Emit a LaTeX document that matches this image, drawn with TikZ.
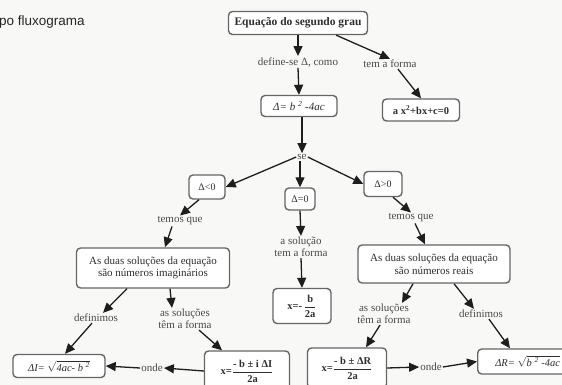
\documentclass[tikz,border=0pt]{standalone}
\usepackage{fontspec}
\setmainfont{Liberation Serif}
\newfontfamily\headfont{Liberation Sans}
\usetikzlibrary{arrows.meta}
\definecolor{boxline}{HTML}{666666}
\definecolor{lbltext}{HTML}{4A4A4A}
\definecolor{boxtext}{HTML}{2E2E2E}
\definecolor{arrowcol}{HTML}{1E1E1E}
\definecolor{paper}{HTML}{F8F8F6}
\newcommand{\stackfrac}[2]{\ensuremath{{\displaystyle\frac{\mbox{#1}}{\mbox{#2}}}}}
\tikzset{
  box/.style={draw=boxline, line width=1.4pt, rounded corners=4pt, fill=white,
    text=boxtext, inner sep=2pt, align=center, font=\fontsize{11}{12.5}\selectfont},
  lbl/.style={text=lbltext, inner sep=1pt, align=center,
    font=\fontsize{11}{12}\selectfont},
  arr/.style={-{Triangle[length=10pt,width=9pt]}, line width=1.3pt, draw=arrowcol}
}
\begin{document}
\begin{tikzpicture}[x=1pt,y=-1pt]
\useasboundingbox (0,0) rectangle (562,385);
\clip (0,0) rectangle (562,385);
\fill[paper] (0,0) rectangle (562,385);

% heading fragment
\node[anchor=base west, inner sep=0pt, font=\headfont\fontsize{13.5}{15}\selectfont, text=black!85] (head) at (-1,26) {po fluxograma};

% top level
\node[box, minimum width=139pt, minimum height=23pt, font=\bfseries\fontsize{11.5}{13}\selectfont] (eq) at (298,23) {Equação do segundo grau};
\node[lbl] (def) at (298,62) {define-se Δ, como};
\node[lbl] (tem) at (390,64) {tem a forma};
\node[box, minimum width=76pt, minimum height=21pt, font=\itshape\fontsize{11}{12}\selectfont] (delta) at (299,106) {Δ= b \textsuperscript{2} -4ac};
\node[box, minimum width=77pt, minimum height=22pt, font=\bfseries\fontsize{10.5}{12}\selectfont] (quad) at (421,110) {a x\textsuperscript{2}+bx+c=0};

\draw[arr] (eq.south -| def) -- (def.north);
\draw[arr] (eq.south east) ++(-32,0) -- (tem.north);
\draw[arr] (def.south) -- (delta.north);
\draw[arr] (tem.south) ++(8,0) -- (quad.north);

% branching on the discriminant
\node[lbl] (se) at (302,157) {se};
\node[box, minimum width=36pt, minimum height=24pt, font=\fontsize{10}{12}\selectfont] (neg) at (207,187) {Δ<0};
\node[box, minimum width=30pt, minimum height=22pt, font=\fontsize{10}{12}\selectfont] (zero) at (300,199) {Δ=0};
\node[box, minimum width=38pt, minimum height=25pt, font=\fontsize{10}{12}\selectfont] (pos) at (383,184) {Δ>0};

\draw[arr] (delta.south -| se) -- (se.north);
\draw[arr] (se.west) -- (neg.east);
\draw[arr] (se.south -| zero) -- (zero.north);
\draw[arr] (se.east) -- (pos.west);

\node[lbl] (temL) at (180,221) {temos que};
\node[lbl] (temR) at (411,218) {temos que};
\node[lbl] (sol0) at (301,247) {a solução\\tem a forma};

\draw[arr] (neg.south) ++(-8,0) -- (temL.north);
\draw[arr] (pos.south) ++(10,0) -- (temR.north);
\draw[arr] (zero.south) -- (sol0.north);

\node[box, minimum width=153pt, minimum height=40pt] (imag) at (153,268) {As duas soluções da equação\\são números imaginários};
\node[box, minimum width=152pt, minimum height=38pt] (real) at (434,264) {As duas soluções da equação\\são números reais};
\node[box, minimum width=58pt, minimum height=35pt, font=\bfseries\fontsize{10.5}{12}\selectfont] (xz) at (302,306) {x=-\,\stackfrac{b}{2a}};

\draw[arr] (temL.south) ++(-8,0) -- (imag.north -| 165,0);
\draw[arr] (temR.south) ++(4,0) -- (real.north -| 425,0);
\draw[arr] (sol0.south) -- (xz.north);

% imaginary branch
\node[lbl] (defL) at (96,318) {definimos};
\node[lbl] (solL) at (185,319) {as soluções\\têm a forma};
\node[box, minimum width=92pt, minimum height=23pt, font=\itshape\fontsize{10.5}{12}\selectfont] (dI) at (59,366) {ΔI= \ensuremath{\sqrt{\mbox{4ac- b \textsuperscript{2}}}}};
\node[box, minimum width=85pt, minimum height=40pt, font=\bfseries\fontsize{10.5}{12}\selectfont] (xI) at (247,371) {x=\stackfrac{- b ± i ΔI}{2a}};
\node[lbl] (ondeL) at (152,368) {onde};

\draw[arr] (imag.south) ++(-26,0) -- (defL.north -| 103,0);
\draw[arr] (imag.south) ++(17,0) -- (solL.north -| 172,0);
\draw[arr] (defL.south) ++(-4,0) -- (dI.north -| 65,0);
\draw[arr] (solL.south) ++(14,0) -- (xI.north -| 222,0);
\draw[arr] (xI.west) -- (ondeL.east);
\draw[arr] (ondeL.west) -- (dI.east);

% real branch
\node[lbl] (solR) at (384,314) {as soluções\\têm a forma};
\node[lbl] (defR) at (481,314) {definimos};
\node[box, minimum width=79pt, minimum height=40pt, font=\bfseries\fontsize{10.5}{12}\selectfont] (xR) at (347,368) {x=\stackfrac{- b ± ΔR}{2a}};
\node[lbl] (ondeR) at (431,367) {onde};
\node[box, anchor=west, minimum width=100pt, minimum height=25pt, font=\itshape\fontsize{10.5}{12}\selectfont] (dR) at (477,361.5) {ΔR= \ensuremath{\sqrt{\mbox{b \textsuperscript{2} -4ac}}}};

\draw[arr] (real.south -| 413,0) -- (solR.north -| 402,0);
\draw[arr] (real.south) ++(20,0) -- (defR.north -| 474,0);
\draw[arr] (solR.south) ++(-4,0) -- (xR.north -| 366,0);
\draw[arr] (defR.south) ++(8,0) -- (dR.north -| 510,0);
\draw[arr] (xR.east) -- (ondeR.west);
\draw[arr] (ondeR.east) -- (dR.west);
\end{tikzpicture}
\end{document}
